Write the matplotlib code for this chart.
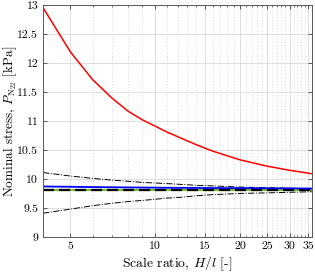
import numpy as np
import matplotlib
matplotlib.use("Agg")
from matplotlib import pyplot as plt
from matplotlib.ticker import FixedLocator, NullFormatter

plt.rcParams['font.family'] = 'serif'
plt.rcParams['font.serif'] = ['cmr10', 'DejaVu Serif']
plt.rcParams['mathtext.fontset'] = 'cm'
plt.rcParams['axes.formatter.use_mathtext'] = True

# scale ratio H/l
ratio = [4, 5, 6, 7, 8, 9, 10, 11, 12, 14, 16, 18, 20, 25, 30, 36]
# nominal stress from the scaled model [kPa]
p_model = [12.95, 12.19, 11.71, 11.40, 11.17, 11.02, 10.91, 10.81, 10.73,
           10.59, 10.48, 10.40, 10.33, 10.22, 10.15, 10.09]
# corrected stress
p_corr = [9.87, 9.865, 9.86, 9.857, 9.854, 9.852, 9.85, 9.848, 9.847,
          9.845, 9.843, 9.842, 9.841, 9.839, 9.837, 9.835]
# reference value
p_ref = [9.81] * len(ratio)
# upper / lower bounds
p_upper = [10.11, 10.05, 10.01, 9.98, 9.96, 9.94, 9.93, 9.92, 9.91,
           9.89, 9.88, 9.87, 9.86, 9.85, 9.84, 9.83]
p_lower = [9.41, 9.48, 9.54, 9.58, 9.61, 9.63, 9.65, 9.67, 9.68,
           9.71, 9.73, 9.74, 9.75, 9.76, 9.77, 9.78]

xticks = [5, 10, 15, 20, 25, 30, 35]
xminor = [v for v in range(4, 37) if v not in xticks]

fig = plt.figure(figsize=(3.15, 2.73), dpi=100)
ax = fig.add_axes([0.137, 0.132, 0.853, 0.85])

ax.plot(ratio, p_upper, color='k', ls='-.', lw=0.7)
ax.plot(ratio, p_lower, color='k', ls='-.', lw=0.7)
ax.plot(ratio, p_ref, color='#77c22a', ls='-', lw=1.6)
ax.plot(ratio, p_ref, color='k', ls=(0, (5, 2.2)), lw=1.6)
ax.plot(ratio, p_corr, color='#0000ff', lw=1.3)
ax.plot(ratio, p_model, color='#ff0000', lw=1.1)

ax.set_xscale('log')
ax.set_xlim(4, 36)
ax.set_ylim(9, 13)
ax.xaxis.set_major_locator(FixedLocator(xticks))
ax.set_xticklabels([str(v) for v in xticks])
ax.xaxis.set_minor_locator(FixedLocator(xminor))
ax.xaxis.set_minor_formatter(NullFormatter())
ax.set_yticks(np.arange(9, 13.01, 0.5))
ax.set_yticklabels(['9', '9.5', '10', '10.5', '11', '11.5', '12', '12.5', '13'])

ax.grid(True, which='major', color='0.85', lw=0.6)
ax.grid(True, which='minor', axis='x', color='0.75', lw=0.5, ls=(0, (1, 3)))
ax.set_axisbelow(True)

ax.tick_params(which='both', direction='in', top=True, right=True,
               labelsize=8.5, colors='0.25', labelcolor='k')
ax.tick_params(which='major', length=3, width=0.6)
ax.tick_params(which='minor', length=1.5, width=0.5)
for s in ax.spines.values():
    s.set_color('0.35')
    s.set_linewidth(0.7)

ax.set_xlabel('Scale ratio, $H/l$ [-]', fontsize=9.8, labelpad=2)
ax.set_ylabel('Nominal stress, $P_{\\mathrm{N}_{22}}$ [kPa]', fontsize=9.5)
ax.yaxis.set_label_coords(-0.09, 0.5)

fig.savefig('out.png', dpi=100)
